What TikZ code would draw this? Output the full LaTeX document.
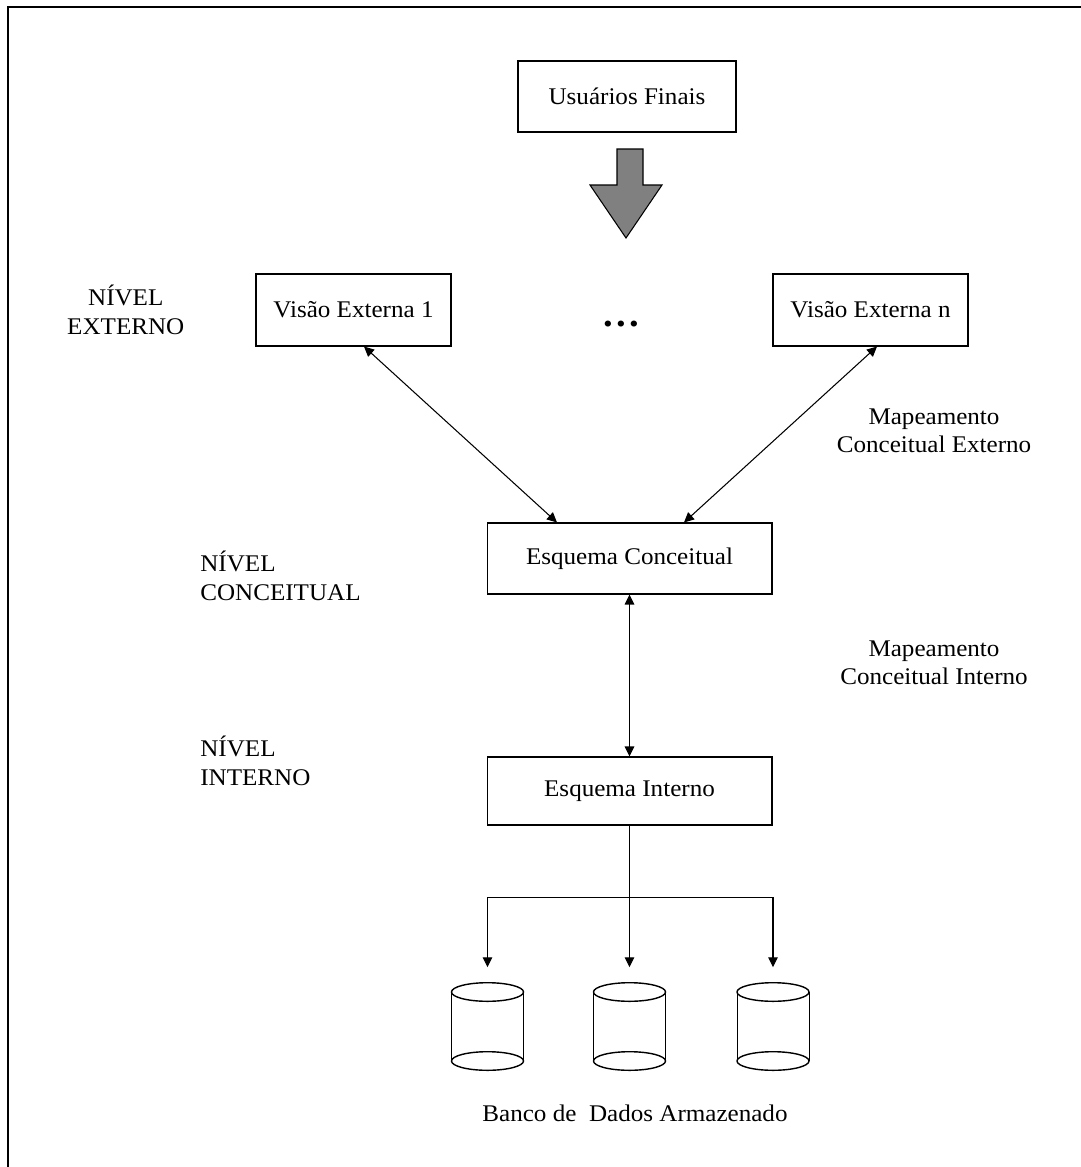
\documentclass[tikz,border=0pt]{standalone}
\usepackage{fontspec}
\setmainfont[FakeStretch=1.05]{Liberation Serif}
\usetikzlibrary{arrows.meta, calc, positioning}

\definecolor{arrowgray}{RGB}{128,128,128}

\tikzset{
  box/.style={draw, line width=0.6pt, inner sep=0pt, align=center},
  link/.style={line width=0.6pt},
  lvl/.style={align=left, inner sep=0pt},
  dbnode/.style={minimum width=1.44cm, minimum height=1.75cm, inner sep=0pt, outer ysep=0.31cm}
}

\begin{document}
\begin{tikzpicture}[x=0.02cm, y=-0.02cm, node distance=1.3cm, >={Triangle[length=0.2cm,width=0.19cm]},
    font=\fontsize{13.6pt}{16.2pt}\selectfont]
    \useasboundingbox (0,0) rectangle (1081,1167);
    % Frame
    \draw [line width=0.04cm] (8,1200) -- (8,7) -- (1100,7);

    % Users
    \node [box, minimum width=4.36cm, minimum height=1.42cm] (users) at (627,96.5) {Usuários Finais};
    \draw [fill=arrowgray, line width=0.6pt] (617,149) -- (643,149) -- (643,185) -- (662,185)
        -- (626,238) -- (590,185) -- (617,185) -- cycle;

    % External views
    \node [box, minimum width=3.9cm, minimum height=1.44cm] (view1) at (353.5,310) {Visão Externa 1};
    \node [box, minimum width=3.9cm, minimum height=1.44cm] (viewn) at (870.5,310) {Visão Externa n};
    \node [anchor=base] (dots) at (621,326) {\fontsize{21pt}{21pt}\selectfont\textbf{.\kern1.8pt.\kern1.8pt.}};

    % Schemas
    \node [box, minimum width=5.7cm, minimum height=1.42cm] (concept) at (629.5,558.5) {Esquema Conceitual};
    \node [box, minimum width=5.7cm, minimum height=1.36cm] (internal) at (629.5,791) {Esquema Interno};

    % Levels
    \node [left=1.3cm of view1, align=center] (lvlext) {NÍVEL\\EXTERNO};
    \node [lvl, anchor=west] (lvlconc) at (200,576) {NÍVEL\\CONCEITUAL};
    \node [lvl, anchor=west] (lvlint) at (200,761) {NÍVEL\\INTERNO};

    % Mappings
    \node [align=center] (mapext) at (934,431) {Mapeamento\\Conceitual Externo};
    \node [align=center] (mapint) at (934,663) {Mapeamento\\Conceitual Interno};

    % Connections
    \draw [<->, link] ([xshift=0.21cm]view1.south) -- ([xshift=-1.45cm]concept.north);
    \draw [<->, link] ([xshift=0.13cm]viewn.south) -- ([xshift=1.09cm]concept.north);
    \draw [<->, link] (concept.south) -- (internal.north);

    % Stored databases
    \node [dbnode] (db1) at (487.5,1026.5) {};
    \node [dbnode] (db2) at (629.5,1026.5) {};
    \node [dbnode] (db3) at (773,1026.5) {};
    \foreach \d in {db1,db2,db3} {
        \draw [line width=0.8pt] ($(\d.center)+(0,-34.5)$) ellipse (36 and 9.3);
        \draw [line width=0.8pt] ($(\d.center)+(0,34.5)$) ellipse (36 and 9.3);
        \draw [line width=0.5pt] ($(\d.center)+(-36,-34.5)$) -- ++(0,69);
        \draw [line width=0.5pt] ($(\d.center)+(36,-34.5)$) -- ++(0,69);
    }
    \coordinate (split) at ($(internal.south)+(0,72)$);
    \draw [link] (internal.south) -- (split);
    \draw [->, link] (split) -| (db1.north);
    \draw [->, link] (split) -- (db2.north);
    \draw [->, link] (split) -| (db3.north);

    \node (store) at (635,1113) {Banco de \ Dados Armazenado};

\end{tikzpicture}
\end{document}
